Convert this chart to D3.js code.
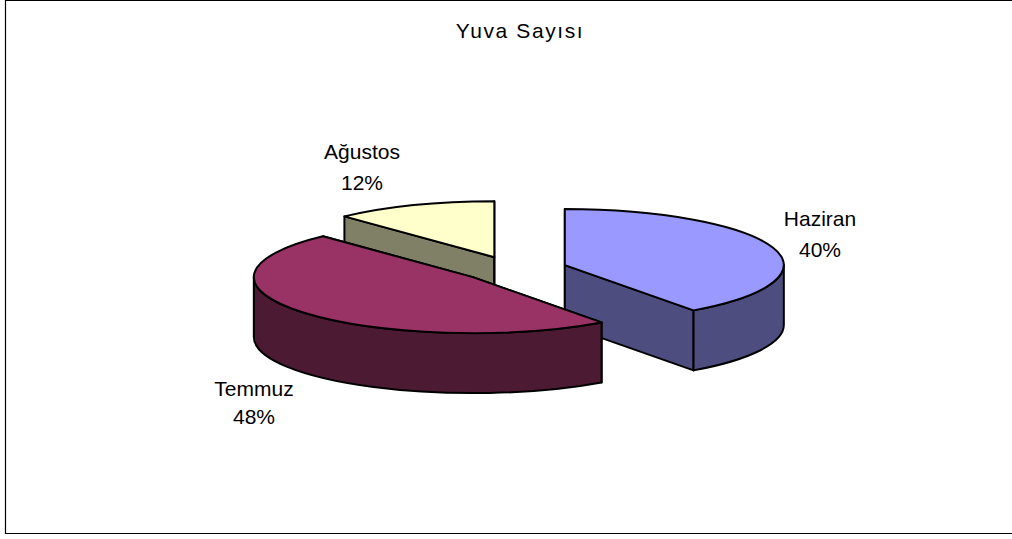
<!DOCTYPE html>
<html>
<head>
<meta charset="utf-8">
<script src="https://cdn.jsdelivr.net/npm/d3@7"></script>
<style>
  html, body { margin: 0; padding: 0; background: #fff; }
  svg { display: block; }
  text { font-family: "Liberation Sans", Arial, sans-serif; font-size: 21px; fill: #000; }
</style>
</head>
<body>
<div id="canvas"></div>
<script>
const chartTitle = "Yuva Sayısı";
const categories = ["Haziran", "Temmuz", "Ağustos"];
const percents = [40, 48, 12];
const topColors = ["#9999ff", "#993366", "#ffffcc"];
const sideColors = ["#4d4d80", "#4d1a33", "#808066"];

const width = 1012, height = 539;
const cx = 514, cy = 269;
const rx = 219, ry = 56, depth = 60;
const explodeX = 0.244, explodeY = 0.227;

// label centres and baselines, placed by hand like the original
const labelPos = { "Haziran": [820, 226, 257], "Temmuz": [254, 396, 424], "Ağustos": [362, 159, 190] };

const svg = d3.select("#canvas")
    .append("svg")
    .attr("width", width)
    .attr("height", height);

// Chart frame
svg.append("path")
    .attr("d", `M${width},0.5H5.5V533.5H${width}`)
    .attr("fill", "none")
    .attr("stroke", "#000")
    .attr("stroke-width", 1.2);

svg.append("text")
    .attr("x", 520)
    .attr("y", 38)
    .attr("text-anchor", "middle")
    .style("letter-spacing", "1.6px")
    .text(chartTitle);

const slices = d3.pie().sort(null)(percents)
    .map((d, i) => ({ ...d, name: categories[i], top: topColors[i], side: sideColors[i] }));

// slice apex, pushed out along its mid angle
function apex(d) {
    const mid = (d.startAngle + d.endAngle) / 2;
    return [cx + explodeX * rx * Math.sin(mid), cy - explodeY * ry * Math.cos(mid)];
}

function rim(d, a) {
    const [ax, ay] = apex(d);
    return [ax + rx * Math.sin(a), ay - ry * Math.cos(a)];
}

function topPath(d) {
    const [ax, ay] = apex(d);
    const s = rim(d, d.startAngle), e = rim(d, d.endAngle);
    const large = d.endAngle - d.startAngle > Math.PI ? 1 : 0;
    return `M${ax},${ay}L${s}A${rx},${ry} 0 ${large} 1 ${e}Z`;
}

function wallPath(d, a) {
    const [ax, ay] = apex(d);
    const [px, py] = rim(d, a);
    return `M${ax},${ay}L${px},${py}V${py + depth}L${ax},${ay + depth}Z`;
}

// outer wall, only the part facing the viewer (90 to 270 degrees)
function outerPath(d) {
    const a0 = Math.max(d.startAngle, Math.PI / 2);
    const a1 = Math.min(d.endAngle, Math.PI * 1.5);
    if (a1 <= a0) return null;
    const s = rim(d, a0), e = rim(d, a1);
    return `M${s}A${rx},${ry} 0 0 1 ${e}V${e[1] + depth}A${rx},${ry} 0 0 0 ${s[0]},${s[1] + depth}Z`;
}

// Draw back slices first, Temmuz sits in front of Haziran
const drawOrder = [2, 0, 1].map(i => slices[i]);
const pie = svg.append("g")
    .attr("stroke", "#000")
    .attr("stroke-width", 2)
    .attr("stroke-linejoin", "round");

drawOrder.forEach(d => {
    const g = pie.append("g");
    g.append("path").attr("d", wallPath(d, d.startAngle)).attr("fill", d.side);
    g.append("path").attr("d", wallPath(d, d.endAngle)).attr("fill", d.side);
    const outer = outerPath(d);
    if (outer) g.append("path").attr("d", outer).attr("fill", d.side);
    g.append("path").attr("d", topPath(d)).attr("fill", d.top);
});

// Draw Labels
const labels = svg.append("g")
    .selectAll("text")
    .data(slices)
    .join("text")
    .attr("text-anchor", "middle")
    .attr("transform", d => `translate(${labelPos[d.name][0]},0)`);

labels.append("tspan").attr("x", 0).attr("y", d => labelPos[d.name][1]).text(d => d.name);
labels.append("tspan").attr("x", 0).attr("y", d => labelPos[d.name][2]).text(d => d3.format("d")(d.value) + "%");
</script>
</body>
</html>
